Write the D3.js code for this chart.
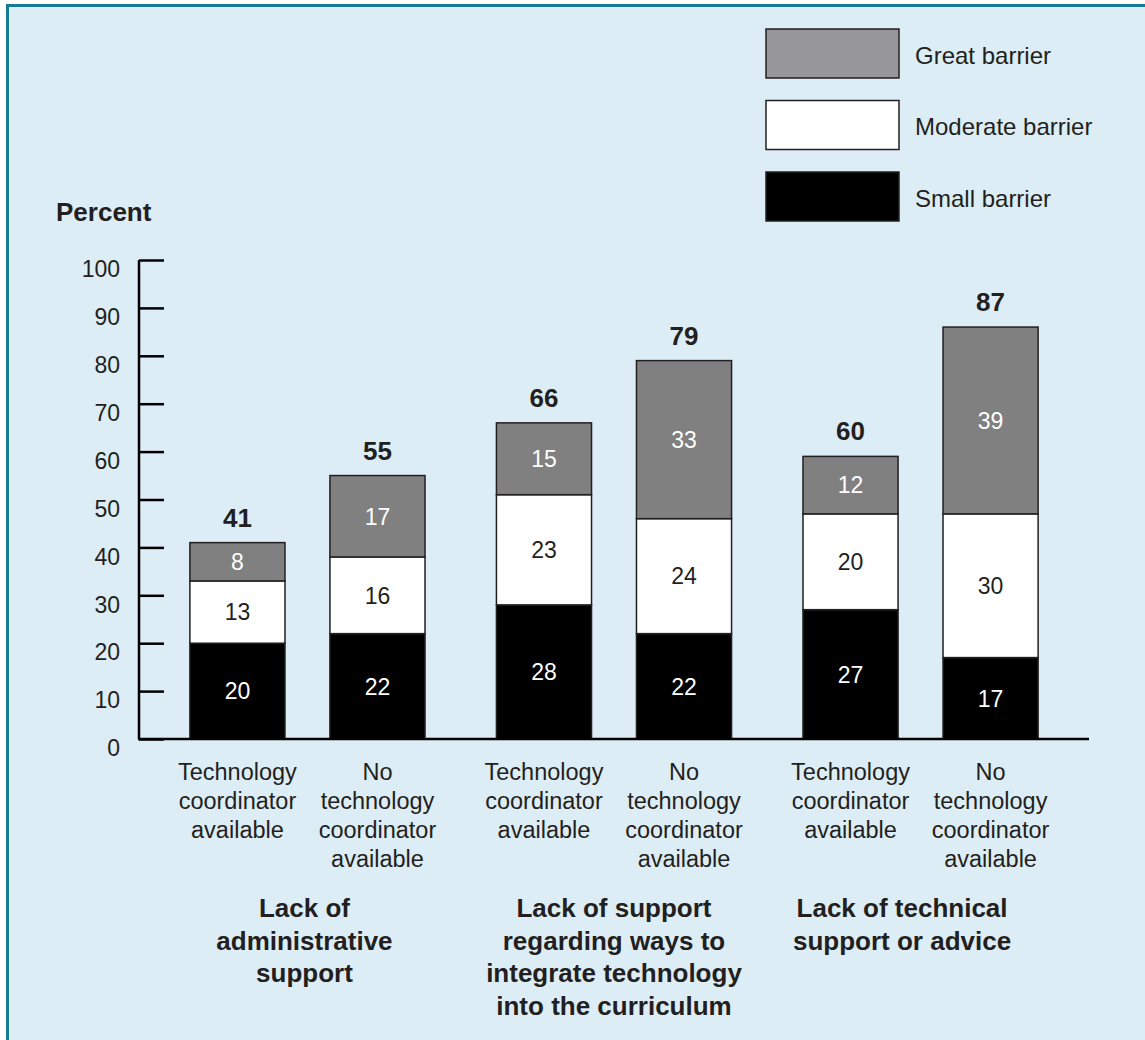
<!DOCTYPE html>
<html>
<head>
<meta charset="utf-8">
<script src="https://cdn.jsdelivr.net/npm/d3@7"></script>
<style>
  html, body { margin: 0; padding: 0; background: #ffffff; }
  svg { display: block; font-family: "Liberation Sans", Arial, Helvetica, sans-serif; }
</style>
</head>
<body>
<svg id="chart" width="1145" height="1040"></svg>
<script>
// Barrier types, bottom to top of each stack
const seriesKeys = ["small", "moderate", "great"];
const seriesNames = ["Small barrier", "Moderate barrier", "Great barrier"];

// Three barrier topics, each split by whether a technology coordinator is available
const groupLines = [
  ["Lack of", "administrative", "support"],
  ["Lack of support", "regarding ways to", "integrate technology", "into the curriculum"],
  ["Lack of technical", "support or advice"]
];
const categoryLines = [
  ["Technology", "coordinator", "available"],
  ["No", "technology", "coordinator", "available"]
];

// Percentages per bar (group 1 yes/no, group 2 yes/no, group 3 yes/no)
const smallValues    = [20, 22, 28, 22, 27, 17];
const moderateValues = [13, 16, 23, 24, 20, 30];
const greatValues    = [8, 17, 15, 33, 12, 39];
const totalLabels    = [41, 55, 66, 79, 60, 87];

const yTickValues = [0, 10, 20, 30, 40, 50, 60, 70, 80, 90, 100];

const rows = smallValues.map((v, i) => ({
  group: Math.floor(i / 2),
  cat: i % 2,
  small: v,
  moderate: moderateValues[i],
  great: greatValues[i],
  total: totalLabels[i]
}));

const fills = { small: "#000000", moderate: "#ffffff", great: "#808080" };
const labelFills = { small: "#ffffff", moderate: "#231f20", great: "#ffffff" };
const legendFills = { small: "#000000", moderate: "#ffffff", great: "#97979a" };
const ink = "#231f20";

const svg = d3.select("#chart");

// Panel background with teal frame
svg.append("rect")
  .attr("x", 7.5).attr("y", 5.5)
  .attr("width", 1200).attr("height", 1100)
  .attr("fill", "#ddedf6")
  .attr("stroke", "#177b93")
  .attr("stroke-width", 3);

const axisLeft = 139, axisRight = 1089;
const y = d3.scaleLinear().domain([0, 100]).range([739, 260]);

const x0 = d3.scaleBand()
  .domain(d3.range(groupLines.length))
  .range([axisLeft, axisRight])
  .paddingInner(0.233)
  .paddingOuter(0.166);

const x1 = d3.scaleBand()
  .domain(d3.range(categoryLines.length))
  .range([0, x0.bandwidth()])
  .paddingInner(0.321)
  .paddingOuter(0);

const barX = d => x0(d.group) + x1(d.cat);

// Stacked bars
const stacked = d3.stack().keys(seriesKeys)(rows);

const layers = svg.append("g").selectAll("g")
  .data(stacked)
  .join("g");

layers.selectAll("rect")
  .data(s => s.map(seg => ({ key: s.key, seg })))
  .join("rect")
  .attr("x", d => barX(d.seg.data))
  .attr("y", d => y(d.seg[1]))
  .attr("width", x1.bandwidth())
  .attr("height", d => y(d.seg[0]) - y(d.seg[1]))
  .attr("fill", d => fills[d.key])
  .attr("stroke", ink)
  .attr("stroke-width", 1.5);

// Segment value labels
layers.selectAll("text")
  .data(s => s.map(seg => ({ key: s.key, seg })))
  .join("text")
  .attr("x", d => barX(d.seg.data) + x1.bandwidth() / 2)
  .attr("y", d => (y(d.seg[0]) + y(d.seg[1])) / 2)
  .attr("dy", "0.36em")
  .attr("text-anchor", "middle")
  .attr("font-size", 23)
  .attr("fill", d => labelFills[d.key])
  .text(d => d.seg.data[d.key]);

// Totals above each bar
svg.append("g").selectAll("text")
  .data(rows)
  .join("text")
  .attr("x", d => barX(d) + x1.bandwidth() / 2)
  .attr("y", d => y(d.small + d.moderate + d.great) - 16)
  .attr("text-anchor", "middle")
  .attr("font-size", 26)
  .attr("font-weight", "bold")
  .attr("fill", ink)
  .text(d => d.total);

// Y axis with inward ticks
const yAxis = d3.axisRight(y).tickValues(yTickValues).tickSize(25).tickFormat("");
const gy = svg.append("g").attr("transform", `translate(${axisLeft},0)`).call(yAxis);
gy.select(".domain").attr("d", `M0,${y(100)}V${y(0)}`).attr("stroke", "#000").attr("stroke-width", 2.5);
gy.selectAll(".tick line").attr("stroke", "#000").attr("stroke-width", 2.5);

svg.append("g").selectAll("text")
  .data(yTickValues)
  .join("text")
  .attr("x", 120)
  .attr("y", d => y(d) + 9)
  .attr("dy", "0.36em")
  .attr("text-anchor", "end")
  .attr("font-size", 23)
  .attr("fill", ink)
  .text(d => d);

// Baseline
svg.append("line")
  .attr("x1", axisLeft - 1).attr("x2", axisRight)
  .attr("y1", y(0)).attr("y2", y(0))
  .attr("stroke", "#000").attr("stroke-width", 2.5);

// Axis title
svg.append("text")
  .attr("x", 56).attr("y", 221)
  .attr("font-size", 26)
  .attr("font-weight", "bold")
  .attr("fill", ink)
  .text("Percent");

// Category labels under bars
rows.forEach(d => {
  const t = svg.append("text")
    .attr("text-anchor", "middle")
    .attr("font-size", 23.5)
    .attr("fill", ink);
  categoryLines[d.cat].forEach((line, j) => {
    t.append("tspan")
      .attr("x", barX(d) + x1.bandwidth() / 2)
      .attr("y", 780 + j * 29)
      .text(line);
  });
});

// Group titles
const groupShift = [-3, 0, -18.5];
groupLines.forEach((lines, g) => {
  const t = svg.append("text")
    .attr("text-anchor", "middle")
    .attr("font-size", 26)
    .attr("font-weight", "bold")
    .attr("fill", ink);
  lines.forEach((line, j) => {
    t.append("tspan")
      .attr("x", x0(g) + x0.bandwidth() / 2 + groupShift[g])
      .attr("y", 917 + j * 32.5)
      .text(line);
  });
});

// Legend, top to bottom: great, moderate, small
const legendOrder = ["great", "moderate", "small"];
const legend = svg.append("g");
legendOrder.forEach((k, i) => {
  const top = 29 + i * 71.5;
  legend.append("rect")
    .attr("x", 766).attr("y", top)
    .attr("width", 133).attr("height", 49)
    .attr("fill", legendFills[k])
    .attr("stroke", ink)
    .attr("stroke-width", 1.5);
  legend.append("text")
    .attr("x", 915).attr("y", top + 26)
    .attr("dy", "0.36em")
    .attr("font-size", 24)
    .attr("fill", ink)
    .text(seriesNames[seriesKeys.indexOf(k)]);
});
</script>
</body>
</html>
